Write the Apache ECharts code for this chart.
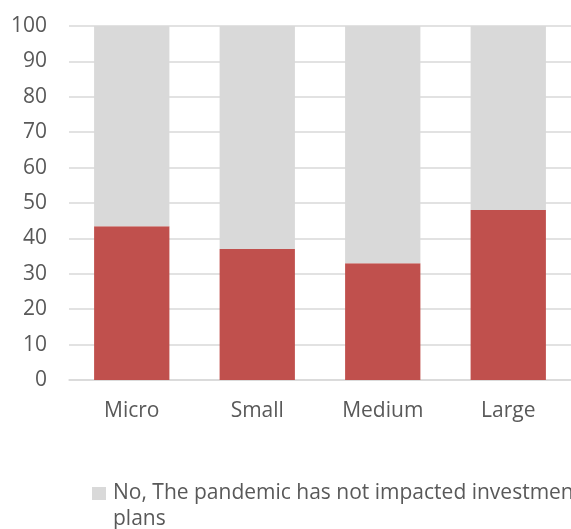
<!DOCTYPE html>
<html><head><meta charset="utf-8">
<script src="https://cdn.jsdelivr.net/npm/echarts@6/dist/echarts.min.js"></script>
<style>html,body{margin:0;padding:0;background:#fff}#c{width:571px;height:529px}</style>
</head><body><div id="c"></div>
<script>
const categories = ["Micro", "Small", "Medium", "Large"];
const yesValues = [43.4, 37.0, 33.0, 48.0];
const noValues = [56.6, 63.0, 67.0, 52.0];
const yTicks = [0, 10, 20, 30, 40, 50, 60, 70, 80, 90, 100];
const yesName = "Yes, The pandemic has impacted investment plans";
const noName = "No, The pandemic has not impacted investment plans";
const noLegendLine1 = "No, The pandemic has not impacted investment";
const noLegendLine2 = "plans";

const chart = echarts.init(document.getElementById('c'), null, {renderer: 'canvas'});
const font = '"Open Sans", sans-serif';
const txt = '#595959';
chart.setOption({
  animation: false,
  grid: {left: 69, right: -1, top: 26, bottom: 149, containLabel: false},
  legend: {
    data: [{name: noName, icon: 'rect'}],
    formatter: () => noLegendLine1,
    left: 87, top: 478, itemWidth: 14, itemHeight: 13, itemGap: 6,
    textStyle: {fontFamily: font, fontSize: 21, color: txt, padding: [0, 0, 0, 2]}
  },
  graphic: [{type: 'text', left: 113, top: 509,
    style: {text: noLegendLine2, fontFamily: font, fontSize: 21, fill: txt}}],
  xAxis: {
    type: 'category', data: categories,
    axisLine: {lineStyle: {color: '#d9d9d9', width: 1.5}},
    axisTick: {show: false},
    axisLabel: {fontFamily: font, fontSize: 21, color: txt, margin: 21}
  },
  yAxis: {
    type: 'value', min: 0, max: 100, interval: 10,
    axisLine: {show: false}, axisTick: {show: false},
    splitLine: {lineStyle: {color: '#d9d9d9', width: 1.5}},
    axisLabel: {fontFamily: font, fontSize: 21, color: txt, margin: 22,
      formatter: v => yTicks.includes(v) ? String(v) : ''}
  },
  series: [
    {name: yesName, type: 'bar', stack: 's', data: yesValues, barWidth: '60%',
     itemStyle: {color: '#c0504d'}},
    {name: noName, type: 'bar', stack: 's', data: noValues, barWidth: '60%',
     itemStyle: {color: '#d9d9d9'}}
  ]
});
</script></body></html>
